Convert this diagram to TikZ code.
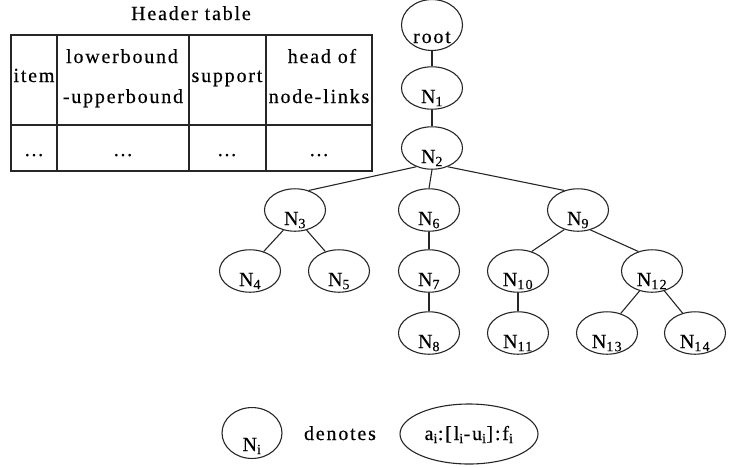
\documentclass[tikz,border=0pt]{standalone}
\usepackage{fontspec}
\setmainfont{Liberation Serif}[LetterSpace=9,FakeBold=0.4]
\usetikzlibrary{shapes.geometric}
% zero-width label, so the text never widens its ellipse
\newcommand\nlab[1]{\makebox[0pt]{#1}}
\begin{document}
\begin{tikzpicture}[x=1pt,y=-1pt,
  every node/.style={font=\fontsize{20}{23}\selectfont, inner sep=0pt},
  ln/.style={draw=black!85, line width=1.1pt},
  tn/.style={ellipse, ln, minimum width=61, minimum height=41,
             text height=30, text depth=0pt},
  edge/.style={black!85, line width=1.1pt},
  tbl/.style={black!85, line width=1.4pt},
  txt/.style={anchor=base}]
\useasboundingbox (0,0) rectangle (730,467);

% ---- header table ----
\node[txt] (ht) at (191,20) {Header table};
\draw[tbl] (11,35) rectangle (372,171);
\draw[tbl] (11,125) -- (372,125);
\foreach \x in {57,189,266} \draw[tbl] (\x,35) -- (\x,171);
\node[txt] (c1) at (34,82) {item};
\node[txt] (c2a) at (122,63) {lowerbound};
\node[txt] (c2b) at (123,103) {-upperbound};
\node[txt] (c3) at (227,82) {support};
\node[txt] (c4a) at (322,63) {head of};
\node[txt] (c4b) at (319,103) {node-links};
\node[txt] (d1) at (34,156) {…};
\node[txt] (d2) at (123,156) {…};
\node[txt] (d3) at (227,156) {…};
\node[txt] (d4) at (319,156) {…};

% ---- tree ----
\node[tn, text height=36] (root) at (432,25) {\nlab{root}};
\node[tn] (n1)  at (432,88)  {\nlab{N\textsubscript{1}}};
\node[tn] (n2)  at (432,148) {\nlab{N\textsubscript{2}}};
\node[tn] (n3)  at (295,210) {\nlab{N\textsubscript{3}}};
\node[tn] (n6)  at (429,210) {\nlab{N\textsubscript{6}}};
\node[tn] (n9)  at (578,210) {\nlab{N\textsubscript{9}}};
\node[tn] (n4)  at (250,271) {\nlab{N\textsubscript{4}}};
\node[tn] (n5)  at (339,271) {\nlab{N\textsubscript{5}}};
\node[tn] (n7)  at (429,271) {\nlab{N\textsubscript{7}}};
\node[tn] (n10) at (518,271) {\nlab{N\textsubscript{10}}};
\node[tn] (n12) at (652,271) {\nlab{N\textsubscript{12}}};
\node[tn] (n8)  at (429,333) {\nlab{N\textsubscript{8}}};
\node[tn] (n11) at (518,333) {\nlab{N\textsubscript{11}}};
\node[tn] (n13) at (607,333) {\nlab{N\textsubscript{13}}};
\node[tn] (n14) at (695,333) {\nlab{N\textsubscript{14}}};

\draw[edge] (root.-90) -- (n1.90);
\draw[edge] (n1.-90) -- (n2.90);
\draw[edge] (n2.-130) -- (n3.55);
\draw[edge] (n2.-90) -- (n6.90);
\draw[edge] (n2.-50) -- (n9.125);
\draw[edge] (n3.-120) -- (n4.55);
\draw[edge] (n3.-60) -- (n5.125);
\draw[edge] (n6.-90) -- (n7.90);
\draw[edge] (n7.-90) -- (n8.90);
\draw[edge] (n9.-125) -- (n10.55);
\draw[edge] (n9.-58) -- (n12.125);
\draw[edge] (n10.-90) -- (n11.90);
\draw[edge] (n12.-122) -- (n13.55);
\draw[edge] (n12.-58) -- (n14.122);

% ---- legend ----
\node[tn, minimum width=60, minimum height=40, text height=36] (ni) at (252,433) {\nlab{N\textsubscript{i}}};
\node[txt] (den) at (340,440) {denotes};
\node[ellipse, ln, minimum width=138, minimum height=60, text height=12, text depth=0pt] (big) at (469,434)
  {\nlab{a\textsubscript{i}:[l\textsubscript{i}-u\textsubscript{i}]:f\textsubscript{i}}};
\end{tikzpicture}
\end{document}
